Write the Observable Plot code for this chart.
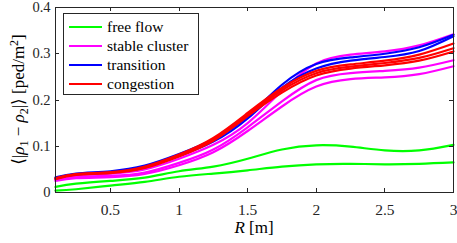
<!DOCTYPE html>
<html>
<head>
<meta charset="utf-8">
<script src="https://cdn.jsdelivr.net/npm/d3@7"></script>
<script src="https://cdn.jsdelivr.net/npm/@observablehq/plot@0.6"></script>
<style>
  html, body { margin: 0; padding: 0; background: #fff; }
  #wrap { position: relative; width: 457px; height: 243px; }
  #legend {
    position: absolute; left: 63px; top: 13px; width: 136px; height: 82px;
    background: #fff; border: 1px solid #262626; box-sizing: border-box;
    font-family: "Liberation Serif", "Times New Roman", Tinos, "DejaVu Serif", "Noto Serif", serif;
    font-size: 15.5px; color: #000;
  }
  .row { position: absolute; left: 0; height: 19px; display: flex; align-items: center; }
  .sw { width: 33px; height: 2px; margin-left: 5px; margin-right: 5px; }
</style>
</head>
<body>
<div id="wrap"><div id="chart"></div><div id="legend"></div></div>
<script>
// Radius values (m)
const R = [0.1, 0.25, 0.5, 0.75, 1, 1.25, 1.5, 1.75, 2, 2.25, 2.5, 2.75, 3];

// free flow
const freeFlow1 = [0.012, 0.019, 0.025, 0.032, 0.046, 0.056, 0.073, 0.093, 0.102, 0.099, 0.091, 0.091, 0.103];
const freeFlow2 = [0.004, 0.007, 0.015, 0.023, 0.034, 0.041, 0.048, 0.056, 0.061, 0.062, 0.061, 0.062, 0.065];
// stable cluster
const stable1 = [0.028, 0.037, 0.041, 0.050, 0.073, 0.103, 0.150, 0.220, 0.279, 0.298, 0.305, 0.318, 0.342];
const stable2 = [0.027, 0.034, 0.036, 0.043, 0.064, 0.093, 0.141, 0.197, 0.243, 0.258, 0.263, 0.270, 0.286];
const stable3 = [0.025, 0.031, 0.033, 0.040, 0.059, 0.087, 0.133, 0.186, 0.229, 0.245, 0.249, 0.256, 0.273];
// transition
const transition1 = [0.033, 0.041, 0.046, 0.058, 0.083, 0.115, 0.165, 0.233, 0.278, 0.292, 0.300, 0.314, 0.341];
const transition2 = [0.031, 0.039, 0.044, 0.055, 0.079, 0.110, 0.160, 0.226, 0.268, 0.285, 0.293, 0.306, 0.338];
// congestion
const congestion1 = [0.031, 0.040, 0.044, 0.056, 0.082, 0.118, 0.172, 0.226, 0.263, 0.277, 0.285, 0.298, 0.322];
const congestion2 = [0.030, 0.039, 0.043, 0.054, 0.080, 0.115, 0.168, 0.221, 0.258, 0.272, 0.280, 0.291, 0.312];
const congestion3 = [0.029, 0.038, 0.042, 0.053, 0.078, 0.112, 0.165, 0.216, 0.253, 0.268, 0.275, 0.285, 0.305];

const categories = ["free flow", "stable cluster", "transition", "congestion"];
const colors = ["#00ff00", "#ff00ff", "#0000ff", "#ff0000"];
const xTicks = [0.5, 1, 1.5, 2, 2.5, 3];
const yTicks = [0, 0.1, 0.2, 0.3, 0.4];

const series = [
  ["free flow", freeFlow1], ["free flow", freeFlow2],
  ["stable cluster", stable1], ["stable cluster", stable2], ["stable cluster", stable3],
  ["transition", transition1], ["transition", transition2],
  ["congestion", congestion1], ["congestion", congestion2], ["congestion", congestion3]
];
const rows = [];
series.forEach(([cat, vals], i) => vals.forEach((v, j) => rows.push({id: i, cat, R: R[j], v})));

const font = '"Liberation Serif", "Times New Roman", Tinos, "DejaVu Serif", "Noto Serif", serif';
const axisColor = "#262626";

const plot = Plot.plot({
  width: 457, height: 243,
  marginLeft: 55, marginRight: 4, marginTop: 7, marginBottom: 51,
  style: {fontFamily: font, fontSize: "15px", color: axisColor, background: "#fff", overflow: "visible"},
  x: {domain: [0.1, 3]},
  y: {domain: [0, 0.4]},
  color: {domain: categories, range: colors},
  marks: [
    Plot.line(rows, {x: "R", y: "v", z: "id", stroke: "cat", strokeWidth: 2.2, curve: "natural"}),
    Plot.frame({stroke: axisColor, strokeWidth: 1}),
    Plot.axisX({ticks: xTicks, tickSize: 0, tickPadding: 11, label: null, tickFormat: d => String(d), fontSize: 15.5, fontFamily: font}),
    Plot.axisY({ticks: yTicks, tickSize: 0, tickPadding: 5, label: null, tickFormat: d => String(d), fontSize: 14.5, fontFamily: font})
  ]
});
document.getElementById("chart").appendChild(plot);
d3.select(plot).selectAll("text").style("font-family", font);

// inward ticks on all four sides, placed through the plot's scales
const sx = plot.scale("x"), sy = plot.scale("y");
const svg = d3.select(plot);
const g = svg.append("g").attr("stroke", axisColor).attr("stroke-width", 1);
const fTop = 7, fBottom = 243 - 51, fLeft = 55, fRight = 457 - 4, tl = 4;
xTicks.forEach(t => {
  const x = Math.round(sx.apply(t)) + 0.5;
  g.append("line").attr("x1", x).attr("x2", x).attr("y1", fBottom).attr("y2", fBottom - tl);
  g.append("line").attr("x1", x).attr("x2", x).attr("y1", fTop).attr("y2", fTop + tl);
});
yTicks.forEach(t => {
  const y = Math.round(sy.apply(t)) + 0.5;
  g.append("line").attr("x1", fLeft).attr("x2", fLeft + tl).attr("y1", y).attr("y2", y);
  g.append("line").attr("x1", fRight).attr("x2", fRight - tl).attr("y1", y).attr("y2", y);
});

// axis labels
const xl = svg.append("text").attr("x", (fLeft + fRight) / 2).attr("y", 233)
  .attr("text-anchor", "middle").style("font-family", font).attr("font-size", 17).attr("fill", "#000");
xl.append("tspan").attr("font-style", "italic").text("R");
xl.append("tspan").text(" [m]");

const yl = svg.append("text").attr("transform", `translate(24,${(fTop + fBottom) / 2}) rotate(-90)`)
  .attr("text-anchor", "middle").style("font-family", font).attr("font-size", 17).attr("fill", "#000");
yl.append("tspan").text("⟨|");
yl.append("tspan").attr("font-style", "italic").text("ρ");
yl.append("tspan").attr("font-size", 12).attr("dy", 4).text("1");
yl.append("tspan").attr("dy", -4).text(" − ");
yl.append("tspan").attr("font-style", "italic").text("ρ");
yl.append("tspan").attr("font-size", 12).attr("dy", 4).text("2");
yl.append("tspan").attr("dy", -4).text("|⟩ [ped/m");
yl.append("tspan").attr("font-size", 12).attr("dy", -6).text("2");
yl.append("tspan").attr("dy", 6).text("]");

// legend
const leg = document.getElementById("legend");
categories.forEach((c, i) => {
  const r = document.createElement("div");
  r.className = "row";
  r.style.top = (3 + i * 19) + "px";
  r.innerHTML = `<span class="sw" style="background:${colors[i]}"></span><span>${c}</span>`;
  leg.appendChild(r);
});
</script>
</body>
</html>
